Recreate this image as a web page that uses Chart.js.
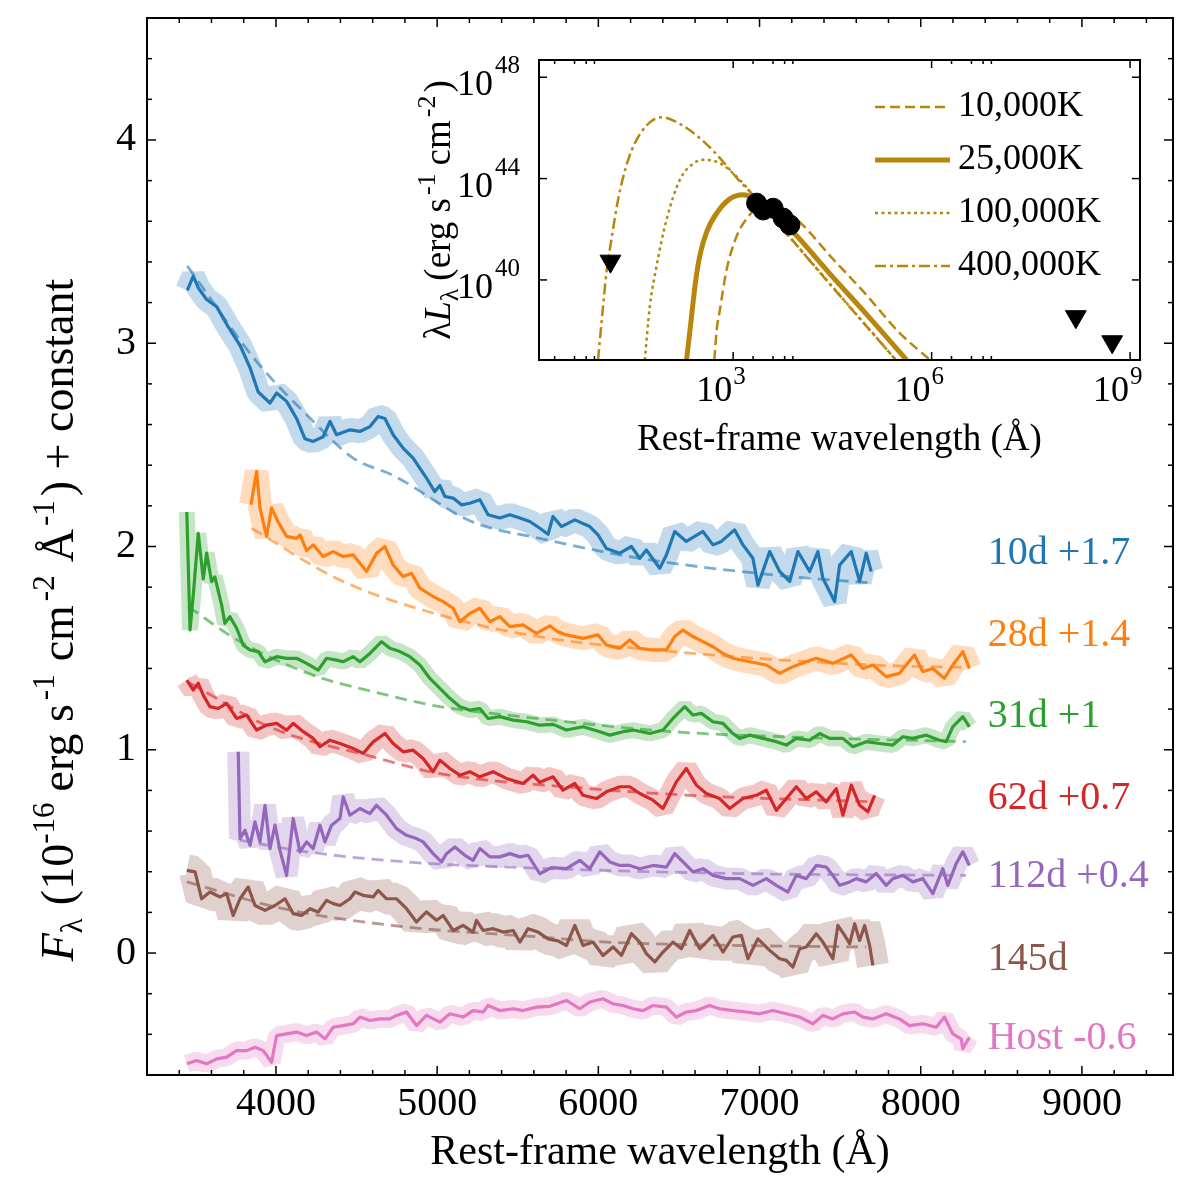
<!DOCTYPE html>
<html>
<head>
<meta charset="utf-8">
<script src="https://cdn.jsdelivr.net/npm/chart.js@4.4.1/dist/chart.umd.min.js"></script>
<style>
  html, body { margin: 0; padding: 0; background: #fff; }
  #wrap { position: relative; width: 1200px; height: 1200px; }
  canvas { position: absolute; left: 0; top: 0; }
</style>
</head>
<body>
<div id="wrap">
  <canvas id="main" width="1200" height="1200"></canvas>
  <canvas id="inset" width="1200" height="1200"></canvas>
</div>
<script>
// ---- spectra (rest-frame wavelength in Angstrom, flux + constant) ----
const wave10d = [3450,3487,3520,3570,3632,3704,3777,3839,3890,3963,4004,4066,4128,4180,4231,4293,4335,4376,4459,4521,4583,4634,4676,4727,4789,4851,4934,4985,5017,5048,5099,5151,5203,5265,5316,5389,5451,5513,5575,5637,5688,5719,5771,5854,5947,5998,6050,6133,6205,6257,6298,6381,6422,6474,6546,6649,6711,6763,6845,6897,6959,6990,7063,7125,7187,7238,7311,7362,7393,7466,7497,7569,7621,7662,7693];
const flux10d = [3.26,3.33,3.27,3.215,3.18,3.08,2.99,2.88,2.76,2.706,2.755,2.714,2.63,2.53,2.517,2.54,2.616,2.55,2.574,2.566,2.59,2.64,2.63,2.55,2.484,2.435,2.336,2.27,2.30,2.246,2.238,2.205,2.213,2.23,2.156,2.14,2.156,2.14,2.123,2.09,2.06,2.148,2.098,2.131,2.098,2.057,1.99,1.967,2.0,1.942,1.983,1.893,1.958,2.074,2.025,2.074,2.008,2.025,2.082,2.008,1.942,1.81,1.975,1.877,1.828,1.975,1.877,1.975,1.844,1.729,1.909,1.975,1.828,1.967,1.877];
const fitWave10d = [3450,3880,4211,4479,4727,5223,5637,6257,7083,7700];
const fitFlux10d = [3.38,2.91,2.632,2.435,2.35,2.12,2.04,1.942,1.86,1.82];

const wave28d = [3845,3880,3901,3942,3973,4014,4066,4128,4149,4190,4231,4293,4355,4417,4479,4562,4624,4676,4727,4789,4841,4893,4975,5037,5099,5141,5203,5265,5327,5389,5451,5533,5616,5699,5750,5802,5905,5998,6050,6133,6195,6257,6339,6422,6474,6525,6587,6649,6711,6773,6835,6939,7042,7125,7207,7290,7352,7455,7569,7641,7703,7786,7868,7961,8013,8075,8147,8199,8261,8302];
const flux28d = [2.205,2.37,2.19,2.05,2.19,2.12,2.05,2.04,2.057,1.98,2.008,1.951,1.975,1.951,1.959,1.877,1.967,2.0,1.909,1.852,1.868,1.795,1.754,1.729,1.696,1.63,1.671,1.696,1.63,1.655,1.606,1.614,1.573,1.61,1.58,1.565,1.548,1.565,1.515,1.499,1.54,1.499,1.491,1.491,1.557,1.589,1.557,1.532,1.507,1.474,1.45,1.433,1.417,1.376,1.409,1.433,1.45,1.425,1.466,1.40,1.417,1.36,1.376,1.466,1.384,1.40,1.351,1.417,1.483,1.40];
const fitWave28d = [3849,4397,5017,5600,6461,7703,8300];
const fitFlux28d = [2.09,1.835,1.663,1.56,1.483,1.417,1.405];

const wave31d = [3447,3467,3487,3518,3549,3570,3601,3621,3663,3683,3714,3756,3797,3839,3890,3932,4004,4066,4128,4190,4262,4314,4376,4417,4479,4521,4583,4655,4707,4769,4831,4893,4955,5017,5079,5141,5203,5265,5316,5389,5472,5555,5637,5719,5802,5905,6009,6071,6153,6215,6319,6401,6463,6536,6587,6639,6711,6773,6835,6877,6939,7021,7104,7166,7228,7311,7373,7435,7517,7579,7662,7744,7827,7889,7951,8034,8116,8158,8199,8261,8302];
const flux31d = [2.17,1.59,1.76,2.065,1.84,1.967,1.827,1.85,1.712,1.622,1.655,1.598,1.515,1.491,1.483,1.433,1.458,1.45,1.45,1.425,1.392,1.45,1.441,1.433,1.458,1.433,1.474,1.532,1.499,1.483,1.458,1.417,1.351,1.302,1.253,1.212,1.195,1.203,1.154,1.163,1.146,1.138,1.121,1.125,1.097,1.113,1.089,1.072,1.089,1.097,1.08,1.097,1.154,1.212,1.171,1.179,1.138,1.13,1.08,1.056,1.072,1.056,1.04,1.023,1.056,1.047,1.08,1.056,1.056,1.015,1.04,1.031,1.023,1.064,1.056,1.072,1.047,1.04,1.113,1.163,1.113];
const fitWave31d = [3456,3777,4231,4603,5017,5430,6463,7300,8281];
const fitFlux31d = [1.704,1.532,1.367,1.286,1.212,1.171,1.089,1.06,1.04];

const wave62d = [3447,3487,3518,3549,3590,3642,3694,3756,3818,3880,3942,4004,4066,4107,4169,4231,4273,4335,4397,4479,4541,4603,4676,4727,4789,4851,4913,4975,5017,5079,5141,5203,5265,5347,5430,5533,5595,5637,5719,5781,5854,5905,5988,6050,6133,6195,6257,6339,6401,6484,6546,6608,6670,6752,6815,6897,6980,7042,7104,7166,7228,7290,7352,7414,7476,7517,7569,7621,7672,7714];
const flux62d = [1.343,1.294,1.327,1.269,1.212,1.203,1.228,1.154,1.171,1.097,1.121,1.13,1.097,1.13,1.089,1.056,1.015,1.047,1.031,1.006,0.982,1.039,1.08,1.031,0.99,0.998,0.957,0.892,0.949,0.908,0.875,0.892,0.867,0.892,0.859,0.834,0.875,0.84,0.867,0.801,0.834,0.776,0.76,0.793,0.818,0.818,0.785,0.752,0.711,0.842,0.908,0.826,0.785,0.76,0.711,0.76,0.776,0.801,0.702,0.76,0.818,0.76,0.793,0.744,0.809,0.678,0.826,0.727,0.695,0.776];
const fitWave62d = [3467,3983,4603,5017,5947,6567,7703];
const fitFlux62d = [1.327,1.105,0.965,0.883,0.809,0.776,0.744];

const wave112d = [3766,3777,3808,3839,3870,3901,3932,3963,3994,4025,4066,4107,4149,4190,4231,4273,4304,4345,4397,4417,4459,4521,4583,4624,4686,4748,4810,4872,4913,4975,5027,5058,5110,5172,5223,5265,5327,5389,5451,5513,5564,5637,5709,5802,5885,5947,6009,6071,6133,6195,6257,6339,6422,6474,6525,6587,6649,6711,6794,6877,6959,7042,7104,7176,7228,7290,7352,7414,7455,7497,7559,7600,7662,7724,7786,7827,7889,7951,8013,8075,8137,8168,8220,8261,8302];
const flux112d = [0.99,0.563,0.604,0.53,0.645,0.547,0.727,0.514,0.629,0.505,0.382,0.662,0.498,0.547,0.514,0.629,0.547,0.629,0.662,0.768,0.678,0.711,0.686,0.727,0.678,0.612,0.579,0.563,0.547,0.489,0.448,0.489,0.522,0.481,0.456,0.514,0.473,0.473,0.489,0.473,0.481,0.39,0.42,0.415,0.456,0.415,0.498,0.448,0.431,0.431,0.415,0.431,0.423,0.489,0.448,0.399,0.415,0.382,0.366,0.366,0.333,0.366,0.333,0.30,0.382,0.366,0.431,0.423,0.382,0.333,0.35,0.366,0.35,0.391,0.333,0.366,0.382,0.35,0.366,0.292,0.415,0.333,0.44,0.498,0.431];
const fitWave112d = [3777,4190,4810,5430,6877,8281];
const fitFlux112d = [0.555,0.498,0.448,0.423,0.391,0.382];

const wave145d = [3447,3498,3539,3590,3653,3694,3735,3777,3828,3870,3932,3994,4056,4107,4159,4211,4262,4314,4355,4397,4459,4490,4541,4603,4634,4686,4748,4810,4872,4934,4996,5037,5099,5161,5223,5244,5285,5347,5409,5472,5513,5564,5626,5688,5750,5802,5854,5905,5967,6029,6091,6143,6205,6257,6298,6350,6401,6463,6515,6567,6629,6711,6773,6835,6887,6928,6990,7063,7125,7166,7207,7249,7290,7352,7393,7455,7486,7528,7559,7590,7621,7652,7683,7703];
const flux145d = [0.407,0.399,0.267,0.30,0.276,0.292,0.185,0.267,0.325,0.234,0.21,0.234,0.267,0.194,0.185,0.218,0.202,0.259,0.243,0.234,0.267,0.30,0.284,0.276,0.308,0.267,0.267,0.218,0.153,0.202,0.161,0.185,0.111,0.136,0.103,0.161,0.111,0.12,0.103,0.111,0.054,0.12,0.103,0.07,0.06,0.037,0.136,0.037,0.054,-0.012,0.03,-0.012,0.095,0.054,-0.003,-0.044,0.005,0.054,0.021,0.111,0.021,0.087,0.005,0.079,0.087,-0.028,0.07,0.013,-0.028,-0.036,-0.069,0.021,0.03,0.095,0.054,-0.028,0.136,0.087,0.046,0.144,0.062,0.136,0.037,-0.061];
const fitWave145d = [3447,4045,4810,5637,6050,6877,7662];
const fitFlux145d = [0.35,0.218,0.128,0.079,0.054,0.037,0.03];

const waveHost = [3447,3508,3570,3632,3694,3756,3818,3870,3921,3973,4004,4066,4128,4190,4252,4304,4355,4417,4479,4521,4583,4645,4707,4748,4810,4872,4934,5017,5079,5161,5223,5285,5316,5389,5472,5533,5616,5699,5802,5885,5947,6029,6091,6153,6215,6277,6339,6422,6484,6546,6608,6690,6752,6835,6918,7000,7083,7166,7249,7331,7393,7455,7517,7590,7641,7703,7786,7868,7930,8013,8096,8147,8199,8251,8261,8302];
const fluxHost = [-0.545,-0.529,-0.545,-0.521,-0.512,-0.48,-0.48,-0.463,-0.48,-0.537,-0.406,-0.398,-0.389,-0.406,-0.389,-0.422,-0.365,-0.357,-0.348,-0.315,-0.332,-0.324,-0.324,-0.307,-0.29,-0.357,-0.307,-0.34,-0.299,-0.315,-0.283,-0.29,-0.258,-0.283,-0.274,-0.283,-0.266,-0.262,-0.233,-0.274,-0.241,-0.225,-0.25,-0.258,-0.274,-0.283,-0.258,-0.266,-0.315,-0.29,-0.283,-0.258,-0.274,-0.283,-0.29,-0.299,-0.283,-0.299,-0.315,-0.348,-0.307,-0.324,-0.299,-0.29,-0.315,-0.324,-0.299,-0.324,-0.357,-0.348,-0.365,-0.315,-0.398,-0.422,-0.471,-0.414];

const epochLabels = ['10d +1.7', '28d +1.4', '31d +1', '62d +0.7', '112d +0.4', '145d', 'Host -0.6'];
const xTicks = [4000, 5000, 6000, 7000, 8000, 9000];
const yTicks = [0, 1, 2, 3, 4];

// ---- inset: blackbody curves and photometry (log10 of wavelength / lambda L_lambda) ----
const tempLabels = ['10,000K', '25,000K', '100,000K', '400,000K'];
const bbLogLam10k = [2.715,2.75,2.8,2.9,3.05,3.25,3.45,3.6,3.8,4.0,4.5,5.0,5.5,5.976];
const bbLogL10k = [36.84,38.0,38.82,40.39,41.71,42.57,43.02,42.98,42.7,42.3,40.85,39.45,37.95,36.84];
const bbLogLam25k = [2.295,2.36,2.43,2.5,2.6,2.75,2.95,3.15,3.3,3.5,3.9,4.5,5.0,5.623];
const bbLogL25k = [36.84,38.3,39.9,41.0,41.9,42.63,43.2,43.36,43.25,42.9,41.91,40.13,38.69,36.84];
const bbLogLam100k = [1.664,1.74,1.841,1.992,2.194,2.4,2.55,2.8,3.1,3.3,3.6,4.5,5.46];
const bbLogL100k = [36.84,38.95,40.53,42.37,43.95,44.6,44.74,44.61,43.95,43.35,42.45,39.74,36.84];
const bbLogLam400k = [0.957,1.033,1.083,1.159,1.26,1.413,1.615,1.918,2.22,2.525,2.78,3.08,3.3,4.5,5.46];
const bbLogL400k = [36.84,38.95,40.26,41.58,43.16,44.74,45.85,46.42,46.12,45.53,44.87,43.95,43.35,39.72,36.84];
const photLogLam = [3.354,3.454,3.605,3.756,3.858];
const photLogL = [43.03,42.76,42.83,42.44,42.17];
const limLogLam = [1.145,8.18,8.73];
const limLogL = [40.74,38.55,37.56];
const insetXTicks = [3, 6, 9];
const insetYTicks = [40, 44, 48];

// ---- styling ----
const SERIF = '"Liberation Serif", "DejaVu Serif", serif';
const colors = ['#1f77b4', '#ff7f0e', '#2ca02c', '#d62728', '#9467bd', '#8c564b', '#e377c2'];
const bandWidths = [24, 24, 16, 22, 22, 32, 18];
const labelYs = [1.967, 1.564, 1.164, 0.76, 0.376, -0.03, -0.42];
const GOLD = '#b8860b';

function font(size, italic) { return (italic ? 'italic ' : '') + size + 'px ' + SERIF; }
function pts(xs, ys) { return xs.map((x, i) => ({ x: x, y: ys[i] })); }
function logPts(xs, ys) { return xs.map((x, i) => ({ x: Math.pow(10, x), y: Math.pow(10, ys[i]) })); }
function alpha(hex, a) {
  const n = parseInt(hex.slice(1), 16);
  return 'rgba(' + (n >> 16) + ',' + ((n >> 8) & 255) + ',' + (n & 255) + ',' + a + ')';
}

// rich text: parts = [{t, s, i, dy, g}] ; g = extra gap after the part
function richWidth(ctx, parts) {
  let w = 0;
  parts.forEach(p => { ctx.font = font(p.s, p.i); w += ctx.measureText(p.t).width + (p.g || 0); });
  return w;
}
function drawRich(ctx, parts, x, y, align) {
  const w = richWidth(ctx, parts);
  let cx = align === 'center' ? x - w / 2 : (align === 'right' ? x - w : x);
  ctx.textAlign = 'left';
  ctx.textBaseline = 'alphabetic';
  parts.forEach(p => {
    ctx.font = font(p.s, p.i);
    ctx.fillText(p.t, cx, y + (p.dy || 0));
    cx += ctx.measureText(p.t).width + (p.g || 0);
  });
}

// ---- main chart ----
const spectra = [
  [wave10d, flux10d, fitWave10d, fitFlux10d],
  [wave28d, flux28d, fitWave28d, fitFlux28d],
  [wave31d, flux31d, fitWave31d, fitFlux31d],
  [wave62d, flux62d, fitWave62d, fitFlux62d],
  [wave112d, flux112d, fitWave112d, fitFlux112d],
  [wave145d, flux145d, fitWave145d, fitFlux145d],
  [waveHost, fluxHost, null, null]
];

const mainDatasets = [];
spectra.forEach((s, k) => {
  mainDatasets.push({
    data: pts(s[0], s[1]), borderColor: alpha(colors[k], 0.27), borderWidth: bandWidths[k],
    borderJoinStyle: 'bevel', pointRadius: 0, order: 3
  });
  if (s[2]) {
    mainDatasets.push({
      data: pts(s[2], s[3]), borderColor: alpha(colors[k], 0.6), borderWidth: 2.8,
      borderDash: [12, 7], cubicInterpolationMode: 'monotone', pointRadius: 0, order: 2
    });
  }
  mainDatasets.push({
    data: pts(s[0], s[1]), borderColor: colors[k], borderWidth: 3.2,
    borderJoinStyle: 'round', pointRadius: 0, order: 1
  });
});

const mainDecor = {
  id: 'mainDecor',
  afterDraw(chart) {
    const ctx = chart.ctx, a = chart.chartArea;
    const xs = chart.scales.x, ys = chart.scales.y;
    ctx.save();
    ctx.strokeStyle = '#000';
    ctx.fillStyle = '#000';
    // ticks pointing inward on all four sides
    ctx.lineWidth = 1.5;
    const tick = (x1, y1, x2, y2) => { ctx.beginPath(); ctx.moveTo(x1, y1); ctx.lineTo(x2, y2); ctx.stroke(); };
    for (let v = 3400; v <= 9400; v += 200) {
      const px = xs.getPixelForValue(v);
      const len = v % 1000 === 0 ? 9 : 5;
      tick(px, a.bottom, px, a.bottom - len);
      tick(px, a.top, px, a.top + len);
    }
    for (let i = -3; i <= 23; i++) {
      const v = i / 5;
      const py = ys.getPixelForValue(v);
      const len = i % 5 === 0 ? 9 : 5;
      tick(a.left, py, a.left + len, py);
      tick(a.right, py, a.right - len, py);
    }
    ctx.lineWidth = 2;
    ctx.strokeRect(a.left, a.top, a.right - a.left, a.bottom - a.top);

    // tick labels
    ctx.font = font(40);
    ctx.textAlign = 'center';
    ctx.textBaseline = 'middle';
    xTicks.forEach(v => ctx.fillText(String(v), xs.getPixelForValue(v), a.bottom + 29));
    ctx.textAlign = 'right';
    yTicks.forEach(v => ctx.fillText(String(v), a.left - 11, ys.getPixelForValue(v)));

    // axis titles
    ctx.font = font(42);
    ctx.textAlign = 'center';
    ctx.fillText('Rest-frame wavelength (\u00c5)', (a.left + a.right) / 2, 1153);

    ctx.save();
    ctx.translate(58, 620);
    ctx.rotate(-Math.PI / 2);
    drawRich(ctx, [
      { t: 'F', s: 46, i: true },
      { t: '\u03bb', s: 31, dy: 9, g: 13 },
      { t: '(10', s: 46 },
      { t: '-16', s: 31, dy: -19, g: 11 },
      { t: 'erg s', s: 46, g: 4 },
      { t: '-1', s: 31, dy: -19, g: 13 },
      { t: 'cm', s: 46, g: 4 },
      { t: '-2', s: 31, dy: -19, g: 13 },
      { t: '\u00c5', s: 46, g: 3 },
      { t: '-1', s: 31, dy: -19, g: 4 },
      { t: ') + constant', s: 46 }
    ], 0, 15, 'center');
    ctx.restore();

    // epoch labels
    ctx.font = font(40);
    ctx.textAlign = 'left';
    ctx.textBaseline = 'middle';
    epochLabels.forEach((t, k) => {
      ctx.fillStyle = colors[k];
      ctx.fillText(t, xs.getPixelForValue(8415), ys.getPixelForValue(labelYs[k]));
    });
    ctx.restore();
  }
};

new Chart(document.getElementById('main'), {
  type: 'line',
  data: { datasets: mainDatasets },
  options: {
    responsive: false, devicePixelRatio: 1, animation: false,
    layout: { padding: { top: 18, right: 27, left: 0, bottom: 0 } },
    plugins: { legend: { display: false }, tooltip: { enabled: false } },
    scales: {
      x: {
        type: 'linear', min: 3200, max: 9565,
        grid: { display: false }, border: { display: false }, ticks: { display: false },
        afterFit(s) { s.height = 125; }
      },
      y: {
        type: 'linear', min: -0.6, max: 4.6,
        grid: { display: false }, border: { display: false }, ticks: { display: false },
        afterFit(s) { s.width = 147; }
      }
    }
  },
  plugins: [mainDecor]
});

// ---- inset chart ----
const bbDash = [[10, 5], [], [3, 3.5], [11, 4, 3, 4]];
const bbWidth = [2.5, 5, 2.5, 2.5];
const bbSets = [
  [bbLogLam10k, bbLogL10k], [bbLogLam25k, bbLogL25k],
  [bbLogLam100k, bbLogL100k], [bbLogLam400k, bbLogL400k]
];
const insetDatasets = bbSets.map((s, k) => ({
  data: logPts(s[0], s[1]), borderColor: GOLD, borderWidth: bbWidth[k], borderDash: bbDash[k],
  cubicInterpolationMode: 'monotone', pointRadius: 0, order: 2
}));
insetDatasets.push({
  data: logPts(photLogLam, photLogL), showLine: false, pointRadius: 10,
  pointBackgroundColor: '#000', pointBorderColor: '#000', order: 0
});
insetDatasets.push({
  data: logPts(limLogLam, limLogL), showLine: false, pointRadius: 12, pointStyle: 'triangle',
  rotation: 180, pointBackgroundColor: '#000', pointBorderColor: '#000', order: 0
});

const insetDecor = {
  id: 'insetDecor',
  beforeDraw(chart) {
    const ctx = chart.ctx, a = chart.chartArea;
    ctx.save();
    ctx.fillStyle = '#fff';
    ctx.fillRect(a.left, a.top, a.right - a.left, a.bottom - a.top);
    ctx.restore();
  },
  afterDraw(chart) {
    const ctx = chart.ctx, a = chart.chartArea;
    const xs = chart.scales.x, ys = chart.scales.y;
    ctx.save();
    ctx.strokeStyle = '#000';
    ctx.fillStyle = '#000';
    ctx.lineWidth = 1.5;
    const tick = (x1, y1, x2, y2) => { ctx.beginPath(); ctx.moveTo(x1, y1); ctx.lineTo(x2, y2); ctx.stroke(); };
    insetXTicks.forEach(d => {
      const px = xs.getPixelForValue(Math.pow(10, d));
      tick(px, a.bottom, px, a.bottom - 8);
      tick(px, a.top, px, a.top + 8);
    });
    [0, 3, 6].forEach(d => [2, 4, 6, 8].forEach(m => {
      const px = xs.getPixelForValue(m * Math.pow(10, d));
      tick(px, a.bottom, px, a.bottom - 4);
      tick(px, a.top, px, a.top + 4);
    }));
    insetYTicks.forEach(d => {
      const py = ys.getPixelForValue(Math.pow(10, d));
      tick(a.left, py, a.left + 8, py);
      tick(a.right, py, a.right - 8, py);
    });
    ctx.lineWidth = 2;
    ctx.strokeRect(a.left, a.top, a.right - a.left, a.bottom - a.top);

    // tick labels 10^n
    insetXTicks.forEach(d => {
      const px = xs.getPixelForValue(Math.pow(10, d));
      ctx.font = font(36); ctx.textAlign = 'right'; ctx.textBaseline = 'alphabetic';
      ctx.fillText('10', px - 1, a.bottom + 41);
      ctx.font = font(25); ctx.textAlign = 'left';
      ctx.fillText(String(d), px, a.bottom + 24);
    });
    insetYTicks.forEach(d => {
      const py = ys.getPixelForValue(Math.pow(10, d));
      ctx.font = font(36); ctx.textAlign = 'right'; ctx.textBaseline = 'alphabetic';
      ctx.fillText('10', a.left - 46, py + 18);
      ctx.font = font(25); ctx.textAlign = 'left';
      ctx.fillText(String(d), a.left - 44, py - 4);
    });

    // titles
    ctx.font = font(37);
    ctx.textAlign = 'center';
    ctx.textBaseline = 'middle';
    ctx.fillText('Rest-frame wavelength (\u00c5)', (a.left + a.right) / 2, 440);
    ctx.save();
    ctx.translate(438, (a.top + a.bottom) / 2);
    ctx.rotate(-Math.PI / 2);
    drawRich(ctx, [
      { t: '\u03bb', s: 37 },
      { t: 'L', s: 37, i: true },
      { t: '\u03bb', s: 26, dy: 8, g: 8 },
      { t: '(erg s', s: 37, g: 3 },
      { t: '-1', s: 26, dy: -15, g: 8 },
      { t: 'cm', s: 37, g: 3 },
      { t: '-2', s: 26, dy: -15, g: 3 },
      { t: ')', s: 37 }
    ], 0, 12, 'center');
    ctx.restore();

    // legend
    ctx.strokeStyle = GOLD;
    tempLabels.forEach((t, k) => {
      const y = 107 + k * 53;
      ctx.setLineDash(bbDash[k]);
      ctx.lineWidth = bbWidth[k];
      tick(875, y, 950, y);
      ctx.setLineDash([]);
      ctx.font = font(36);
      ctx.textAlign = 'left';
      ctx.textBaseline = 'middle';
      ctx.fillText(t, 958, y);
    });
    ctx.restore();
  }
};

new Chart(document.getElementById('inset'), {
  type: 'line',
  data: { datasets: insetDatasets },
  options: {
    responsive: false, devicePixelRatio: 1, animation: false,
    layout: { padding: { top: 60, right: 60, left: 0, bottom: 0 } },
    plugins: { legend: { display: false }, tooltip: { enabled: false } },
    scales: {
      x: {
        type: 'logarithmic', min: Math.pow(10, 0.065), max: Math.pow(10, 9.15),
        grid: { display: false }, border: { display: false }, ticks: { display: false },
        afterFit(s) { s.height = 840; }
      },
      y: {
        type: 'logarithmic', min: Math.pow(10, 36.84), max: Math.pow(10, 48.68),
        grid: { display: false }, border: { display: false }, ticks: { display: false },
        afterFit(s) { s.width = 539; }
      }
    }
  },
  plugins: [insetDecor]
});
</script>
</body>
</html>
